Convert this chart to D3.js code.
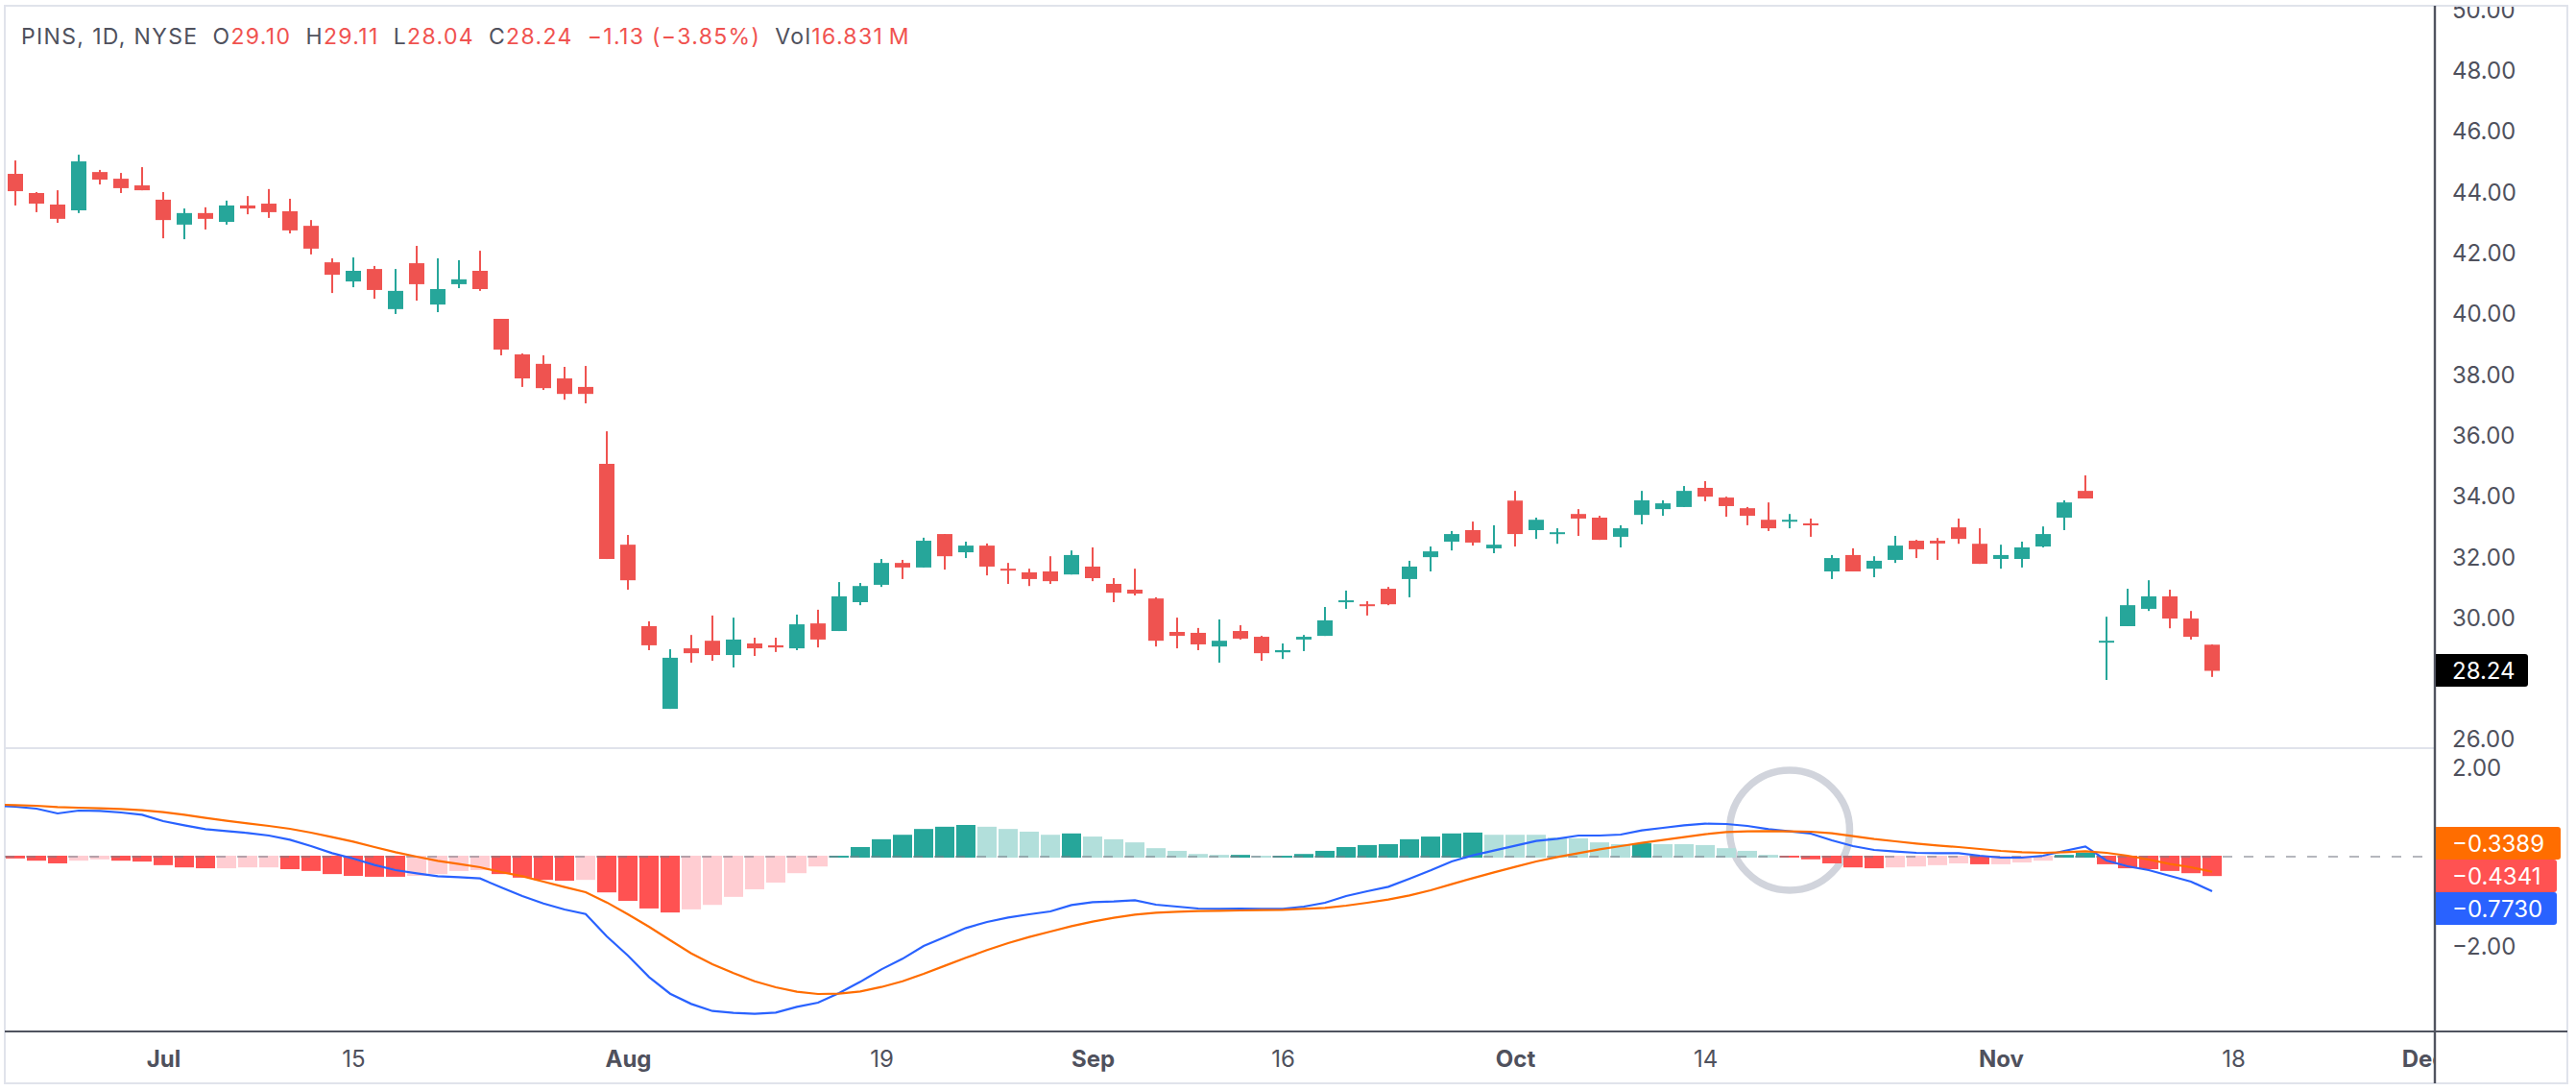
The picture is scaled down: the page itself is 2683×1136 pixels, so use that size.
<!DOCTYPE html>
<html>
<head>
<meta charset="utf-8">
<style>
  html, body { margin: 0; background: #fff; }
  svg { display: block; font-family: Inter, sans-serif; }
</style>
<script src="https://cdn.jsdelivr.net/npm/d3@7"></script>
</head>
<body>
<svg id="chart" width="2683" height="1136"></svg>
<script>
const open = [44.59,43.96,43.58,43.39,44.65,44.43,44.21,43.74,42.92,43.30,
  43.01,43.55,43.61,43.36,42.88,41.68,41.05,41.46,40.14,41.65,
  40.29,40.96,41.40,39.82,38.65,38.34,37.86,37.58,35.05,32.39,
  29.71,26.99,28.98,29.23,28.76,29.14,29.08,28.98,29.80,29.55,
  30.50,31.07,31.79,31.64,32.74,32.14,32.36,31.60,31.48,31.51,
  31.41,31.67,31.10,30.91,30.62,29.52,29.49,29.04,29.55,29.36,
  28.85,29.27,29.39,30.50,30.43,30.94,31.26,31.98,32.49,32.87,
  32.27,33.84,32.87,32.74,33.40,33.28,32.65,33.37,33.56,33.63,
  34.26,33.94,33.59,33.21,33.15,33.09,31.51,32.05,31.60,31.89,
  32.52,32.52,32.96,32.42,31.92,31.92,32.33,33.28,34.16,29.17,
  29.71,30.28,30.69,29.96,29.10];
const close = [44.02,43.61,43.11,45.00,44.40,44.12,44.05,43.07,43.30,43.11,
  43.55,43.45,43.33,42.73,42.13,41.27,41.40,40.77,40.74,40.96,
  40.80,41.12,40.80,38.81,37.86,37.54,37.35,37.35,31.92,31.22,
  29.08,28.67,28.82,28.76,29.27,28.98,29.01,29.77,29.27,30.69,
  31.03,31.79,31.64,32.52,32.01,32.36,31.67,31.54,31.26,31.19,
  32.05,31.29,30.81,30.78,29.23,29.39,29.11,29.23,29.30,28.82,
  28.92,29.36,29.90,30.56,30.37,30.43,31.67,32.17,32.74,32.46,
  32.39,32.74,33.21,32.80,33.25,32.55,32.93,33.85,33.75,34.16,
  33.97,33.66,33.34,32.93,33.21,33.03,31.95,31.51,31.86,32.36,
  32.24,32.43,32.58,31.76,32.05,32.30,32.74,33.78,33.91,29.23,
  30.40,30.69,29.96,29.36,28.24];
const high = [45.03,43.99,44.05,45.22,44.72,44.62,44.81,43.99,43.45,43.49,
  43.71,43.86,44.09,43.77,43.07,41.81,41.84,41.56,41.46,42.22,
  41.81,41.75,42.06,39.82,38.68,38.62,38.24,38.27,36.12,32.71,
  29.87,28.95,29.42,30.06,29.99,29.33,29.33,30.09,30.25,31.16,
  31.13,31.92,31.89,32.62,32.74,32.49,32.43,31.79,31.60,32.01,
  32.20,32.30,31.29,31.60,30.66,29.99,29.65,29.93,29.74,29.39,
  29.14,29.42,30.34,30.88,30.53,31.00,31.86,32.33,32.84,33.15,
  33.03,34.16,33.28,32.93,33.56,33.34,33.03,34.16,33.85,34.32,
  34.48,33.97,33.63,33.78,33.40,33.25,32.05,32.27,32.01,32.68,
  32.55,32.61,33.25,32.93,32.39,32.49,32.99,33.85,34.67,30.02,
  30.94,31.22,30.91,30.21,29.11];
const low = [43.55,43.33,42.98,43.30,44.24,43.96,44.05,42.47,42.44,42.76,
  42.92,43.26,43.14,42.63,41.94,40.67,40.86,40.48,39.98,40.42,
  40.04,40.83,40.74,38.62,37.58,37.48,37.16,37.04,31.92,30.91,
  28.92,26.99,28.51,28.57,28.35,28.73,28.86,28.92,29.01,29.55,
  30.40,31.00,31.26,31.64,31.57,31.95,31.38,31.10,31.03,31.10,
  31.41,31.19,30.50,30.72,29.04,28.98,28.92,28.51,29.27,28.57,
  28.63,28.89,29.39,30.28,30.06,30.40,30.66,31.51,32.20,32.36,
  32.11,32.33,32.58,32.42,32.68,32.55,32.30,33.06,33.34,33.63,
  33.82,33.31,33.03,32.84,32.93,32.65,31.26,31.51,31.32,31.79,
  31.95,31.89,32.42,31.76,31.60,31.64,32.30,32.87,33.91,27.94,
  29.71,30.21,29.64,29.27,28.04];

const hist = [-.04,-.09,-.15,-.09,-.06,-.09,-.11,-.19,-.24,-.26,
  -.26,-.24,-.24,-.28,-.32,-.39,-.43,-.45,-.45,-.43,
  -.39,-.32,-.30,-.39,-.47,-.52,-.54,-.52,-.80,-.99,
  -1.16,-1.25,-1.18,-1.08,-.90,-.73,-.58,-.37,-.22,.02,
  .215,.39,.49,.62,.67,.71,.67,.62,.56,.49,
  .52,.45,.39,.32,.19,.13,.06,.04,.04,.02,
  .02,.06,.13,.215,.26,.28,.39,.45,.52,.54,
  .49,.49,.49,.43,.41,.32,.28,.30,.28,.28,
  .26,.19,.13,.04,-.02,-.06,-.15,-.24,-.26,-.24,
  -.22,-.19,-.15,-.17,-.17,-.13,-.09,.04,.09,-.17,
  -.26,-.28,-.32,-.37,-.434];
// 1 = strong colour, 0 = pale colour
const histStrong = "111001111100011111100001111011110000000111111100001000000010111111111100000001000000111110000100011111111";

// first entry of both lines is the bar just left of the visible range
const macd = [1.147,1.118,1.075,.968,1.032,1.025,.989,.939,.796,.703,.617,
  .573,.530,.473,.380,.237,.079,-.043,-.186,-.301,-.373,
  -.437,-.459,-.488,-.688,-.882,-1.047,-1.183,-1.283,-1.785,-2.215,
  -2.696,-3.069,-3.298,-3.456,-3.499,-3.520,-3.492,-3.363,-3.270,-3.054,
  -2.803,-2.524,-2.287,-2.000,-1.800,-1.599,-1.463,-1.362,-1.291,-1.226,
  -1.083,-1.018,-1.004,-.975,-1.075,-1.118,-1.161,-1.169,-1.161,-1.169,
  -1.169,-1.118,-1.032,-.882,-.774,-.674,-.495,-.308,-.108,.029,
  .136,.244,.351,.401,.473,.473,.495,.588,.645,.703,
  .738,.731,.688,.617,.566,.516,.366,.237,.151,.115,
  .086,.079,.079,.022,-.022,-.022,.022,.129,.229,-.086,
  -.215,-.301,-.430,-.559,-.773];
const signal = [1.169,1.154,1.140,1.111,1.097,1.083,1.068,1.040,.997,.939,.868,
  .803,.746,.688,.624,.538,.437,.337,.215,.100,0,
  -.093,-.165,-.237,-.344,-.437,-.559,-.681,-.796,-1.025,-1.291,
  -1.570,-1.871,-2.165,-2.409,-2.609,-2.789,-2.925,-3.025,-3.075,-3.068,
  -3.018,-2.918,-2.789,-2.624,-2.444,-2.265,-2.093,-1.935,-1.799,-1.677,
  -1.556,-1.455,-1.369,-1.297,-1.254,-1.233,-1.219,-1.211,-1.204,-1.197,
  -1.190,-1.168,-1.147,-1.097,-1.032,-.961,-.867,-.753,-.616,-.480,
  -.351,-.229,-.108,-.007,.079,.165,.237,.308,.373,.437,
  .502,.552,.566,.573,.566,.559,.523,.459,.394,.344,
  .294,.251,.215,.172,.129,.100,.086,.100,.122,.086,
  .022,-.065,-.165,-.237,-.339];

const priceTicks = [26,30,32,34,36,38,40,42,44,46,48,50];
const macdTicks = [-2, 2];
const timeTickBars = [7,16,29,41,51,60,71,80,94,105,114];
const timeTickLabels = ["Jul","15","Aug","19","Sep","16","Oct","14","Nov","18","Dec"];
const monthLabels = ["Jul","Aug","Sep","Oct","Nov","Dec"];
const lastPrice = "28.24";
const lastSignal = "−0.3389";
const lastHist = "−0.4341";
const lastMacd = "−0.7730";

const headerParts = [
  ["PINS, 1D, NYSE", "label", 0],
  ["O", "label", 1], ["29.10", "value", 0],
  ["H", "label", 1], ["29.11", "value", 0],
  ["L", "label", 1], ["28.04", "value", 0],
  ["C", "label", 1], ["28.24", "value", 0],
  ["−1.13 (−3.85%)", "value", 1],
  ["Vol", "label", 1], ["16.831\u2009M", "value", 0]
];

const UP = "#26a69a", DOWN = "#ef5350";
const TEXT = "#4f515d", AXIS = "#50535f", FRAME = "#e0e3eb";
const BLUE = "#2962ff", ORANGE = "#ff6d00";

const svg = d3.select("#chart");
const x = d3.scaleLinear().domain([0, 104]).range([16, 2304]);
const y = d3.scaleLinear().domain([26, 50]).range([769.4, 9.8]);
const m = d3.scaleLinear().domain([-2, 2]).range([985, 799]);

const defs = svg.append("defs");
defs.append("clipPath").attr("id", "plot").append("rect")
  .attr("x", 5).attr("y", 7).attr("width", 2530).attr("height", 1120);
defs.append("clipPath").attr("id", "scale").append("rect")
  .attr("x", 2537).attr("y", 7).attr("width", 137).attr("height", 1120);
defs.append("clipPath").attr("id", "timeClip").append("rect")
  .attr("x", 5).attr("y", 0).attr("width", 2530).attr("height", 54);

// pane frame
svg.append("rect").attr("x", 5).attr("y", 6).attr("width", 2669).attr("height", 1122)
  .attr("fill", "#fff").attr("stroke", FRAME).attr("stroke-width", 2);
svg.append("line").attr("x1", 5).attr("x2", 2536).attr("y1", 779).attr("y2", 779)
  .attr("stroke", FRAME).attr("stroke-width", 2);

const plot = svg.append("g").attr("clip-path", "url(#plot)");

// highlight ring around the crossover
plot.append("circle").attr("cx", 1864).attr("cy", 864.5).attr("r", 62.5)
  .attr("fill", "none").attr("stroke", "#d1d4dc").attr("stroke-width", 7.5);

// histogram
const zero = m(0);
plot.append("g").selectAll("rect").data(hist).join("rect")
  .attr("x", (d, i) => x(i) - 10)
  .attr("width", 20)
  .attr("y", d => d < 0 ? zero - 1 : m(d))
  .attr("height", d => d < 0 ? m(d) - zero + 1 : zero + 1 - m(d))
  .attr("fill", (d, i) => {
    const strong = histStrong[i] === "1";
    if (d < 0) return strong ? "#ff5252" : "#ffcdd2";
    return strong ? UP : "#b2dfdb";
  });

plot.append("line").attr("x1", 5).attr("x2", 2536).attr("y1", zero).attr("y2", zero)
  .attr("stroke", "#787b86").attr("stroke-opacity", 0.55).attr("stroke-width", 2)
  .attr("stroke-dasharray", "10 12");

// candles
const candles = plot.append("g").selectAll("g").data(open).join("g")
  .attr("fill", (d, i) => close[i] >= open[i] ? UP : DOWN);
candles.append("rect")
  .attr("x", (d, i) => x(i) - 1)
  .attr("width", 2)
  .attr("y", (d, i) => y(high[i]))
  .attr("height", (d, i) => y(low[i]) - y(high[i]));
candles.append("rect")
  .attr("x", (d, i) => x(i) - 8)
  .attr("width", 16)
  .attr("y", (d, i) => y(Math.max(open[i], close[i])))
  .attr("height", (d, i) => Math.max(2, Math.abs(y(open[i]) - y(close[i]))));

// macd and signal lines
const line = d3.line().x((d, i) => x(i - 1)).y(d => m(d));
plot.append("path").datum(macd).attr("d", line)
  .attr("fill", "none").attr("stroke", BLUE).attr("stroke-width", 2.2);
plot.append("path").datum(signal).attr("d", line)
  .attr("fill", "none").attr("stroke", ORANGE).attr("stroke-width", 2.2);

// time axis
const timeAxis = svg.append("g").attr("transform", "translate(0,1074)").attr("clip-path", "url(#timeClip)")
  .call(d3.axisBottom(x).tickValues(timeTickBars).tickFormat((d, i) => timeTickLabels[i]).tickSize(0));
timeAxis.select(".domain").remove();
timeAxis.selectAll("text")
  .attr("y", 28).attr("dy", null).attr("dominant-baseline", "central")
  .attr("fill", TEXT).attr("font-size", 24).attr("font-family", "Inter, sans-serif")
  .attr("font-weight", d => monthLabels.includes(timeTickLabels[timeTickBars.indexOf(d)]) ? 700 : 400);

// value axes
const fmt = d3.format(".2f");
const scaleG = svg.append("g").attr("clip-path", "url(#scale)");
[[y, priceTicks], [m, macdTicks]].forEach(([scale, ticks]) => {
  const g = scaleG.append("g").attr("transform", "translate(2536,0)")
    .call(d3.axisRight(scale).tickValues(ticks).tickFormat(fmt).tickSize(0));
  g.select(".domain").remove();
  g.selectAll("text")
    .attr("x", 18).attr("dy", null).attr("dominant-baseline", "central")
    .attr("fill", TEXT).attr("font-size", 24).attr("font-family", "Inter, sans-serif");
});

// axis rules
svg.append("line").attr("x1", 5).attr("x2", 2674).attr("y1", 1074).attr("y2", 1074)
  .attr("stroke", AXIS).attr("stroke-width", 2);
svg.append("line").attr("x1", 2536).attr("x2", 2536).attr("y1", 6).attr("y2", 1128)
  .attr("stroke", AXIS).attr("stroke-width", 2.4);

// last value tags
function tag(label, fill, top, right) {
  const l = 2537, b = top + 34, r = 3;
  svg.append("path")
    .attr("d", `M${l},${top}H${right - r}Q${right},${top} ${right},${top + r}V${b - r}Q${right},${b} ${right - r},${b}H${l}Z`)
    .attr("fill", fill);
  svg.append("text").attr("x", 2554).attr("y", top + 17)
    .attr("dominant-baseline", "central").attr("fill", "#fff").attr("font-size", 24)
    .text(label);
}
tag(lastPrice, "#000", 681, 2633);
tag(lastSignal, ORANGE, 861, 2667);
tag(lastHist, "#ff5252", 895, 2663);
tag(lastMacd, BLUE, 929, 2663);

// legend line
const head = svg.append("text").attr("x", 22).attr("y", 37.5)
  .attr("dominant-baseline", "central").attr("font-size", 23).attr("letter-spacing", 1.35);
head.selectAll("tspan").data(headerParts).join("tspan")
  .attr("dx", d => d[2] ? 15 : 0)
  .attr("fill", d => d[1] === "label" ? TEXT : "#f0524f")
  .text(d => d[0]);
</script>
</body>
</html>
